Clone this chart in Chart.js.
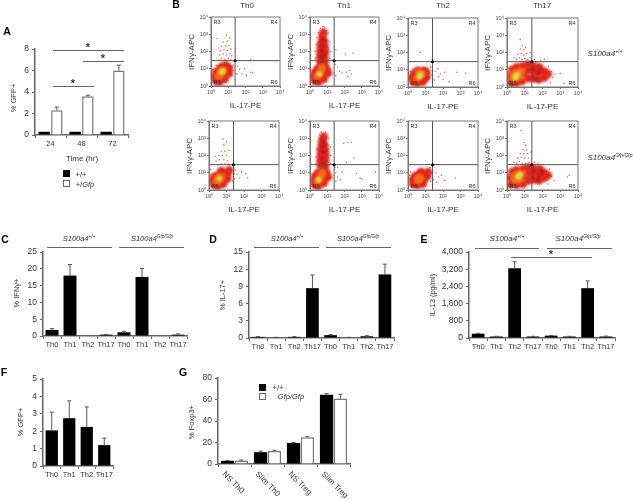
<!DOCTYPE html>
<html>
<head>
<meta charset="utf-8">
<title>Figure</title>
<script src="https://cdn.jsdelivr.net/npm/chart.js@4"></script>
<style>
  html, body { margin: 0; background: #fff; }
  #fig { position: relative; width: 633px; height: 499px; overflow: hidden; font-family: "Liberation Sans", Arial, sans-serif; color: #333; filter: blur(0.3px); }
  #fig canvas { position: absolute; }
  .t { position: absolute; white-space: nowrap; transform: translate(-50%, -50%); }
  .t sup { font-size: 62%; line-height: 0; vertical-align: 0.45em; }
  .line { position: absolute; height: 1px; background: #666; }
  .box { position: absolute; width: 7px; height: 7px; box-sizing: border-box; }
</style>
</head>
<body>
<div id="fig"></div>
<script>
/* panel A */
const hours = ['24', '48', '72'];
const aWild = [0.3, 0.3, 0.3];
const aGfp = [2.3, 3.6, 6.0];
const aGfpErr = [0.3, 0.1, 0.5];

/* panels C, D, E */
const thEight = ['Th0', 'Th1', 'Th2', 'Th17', 'Th0', 'Th1', 'Th2', 'Th17'];
const ifng = [1.8, 18, 0, 0.4, 1.1, 17.6, 0, 0.4];
const ifngErr = [0.4, 3.3, 0, 0.1, 0.3, 2.5, 0, 0.2];
const il17 = [0.2, 0.1, 0.2, 8.7, 0.5, 0.1, 0.3, 11.1];
const il17Err = [0.05, 0.03, 0.05, 2.3, 0.1, 0.03, 0.1, 1.8];
const il13 = [200, 70, 3250, 70, 110, 70, 2320, 70];
const il13Err = [20, 10, 300, 10, 10, 10, 340, 20];

/* panel F */
const thFour = ['Th0', 'Th1', 'Th2', 'Th17'];
const fGfp = [2.05, 2.75, 2.25, 1.2];
const fGfpErr = [1.05, 1.0, 1.15, 0.4];

/* panel G */
const foxpCats = ['NS Th0', 'Slim Th0', 'NS Treg', 'Slim Treg'];
const foxpWild = [3, 11, 19.5, 64.5];
const foxpWildErr = [0.2, 1, 0.5, 1];
const foxpGfp = [3.2, 12, 25, 61];
const foxpGfpErr = [0.5, 0.8, 0.4, 4];

/* panel B, read in decades of each axis: [IL-17-PE, IFNy-APC] */
const gateX = [1.4, 1.4];
const gateYSpan = [0, 4];
const gateY = [1.47, 1.47];
const gateXSpan = [0, 4];

const th0WtSparse = [[.45,1.5],[.6,1.6],[.8,1.55],[1,1.6],[1.15,1.5],[.5,1.8],[.7,1.85],[.9,1.8],[1.1,1.9],[.55,2.05],[.75,2.1],[.95,2.05],[1.15,2.15],[.6,2.3],[.85,2.3],[1.05,2.35],[.7,2.55],[.95,2.6],[.45,2.2],[.35,2.75],[1.1,2.8],[.9,2.95],[1.2,1.75],[1.55,1.15],[1.65,.95],[1.8,.7],[1.95,1.0],[2.05,.6],[2.3,.8],[2.4,.75],[2.3,1.55],[1.5,.7],[.05,.5],[.1,.95],[.3,1.2],[1.2,.6],[1.3,.9],[1.3,1.2]];
const th0WtRed = [[.28,.3],[.22,.55],[.3,.8],[.5,.25],[.55,.55],[.5,.95],[.6,1.1],[.8,.4],[.85,.7],[.85,1.0],[.85,1.2],[1.05,.75],[1.05,1.05]];
const th0WtOrange = [[.42,.55],[.58,.68],[.72,.88],[.55,.88]];
const th0WtCore = [[.62,.78],[.7,.9]];

const th1WtSparse = [[.3,1.6],[.3,2.0],[.35,2.4],[.4,2.8],[.5,3.1],[.6,3.35],[.85,3.4],[1.05,3.05],[1.15,2.55],[1.2,2.0],[1.15,1.6],[.95,3.2],[.75,3.45],[.45,1.8],[1.05,2.2],[.42,2.5],[1.6,1.1],[1.7,.85],[1.85,.75],[2.1,.8],[2.2,.55],[2.3,.9],[2.05,1.85],[2.5,1.9],[1.5,.6],[1.45,1.25],[2.4,.7],[1.5,2.1]];
const th1WtRed = [[.28,.3],[.22,.55],[.3,.8],[.5,.25],[.55,.55],[.45,1.0],[.8,.4],[.85,.7],[.95,1.0],[.8,1.15],[1.05,.75],[.6,1.4],[.85,1.4],[.58,1.7],[.85,1.7],[.6,2.0],[.88,2.0],[.62,2.3],[.85,2.3],[.68,2.6],[.82,2.6],[.72,2.9],[.78,3.1]];
const th1WtDark = [[.7,1.4],[.65,1.7],[.82,1.8],[.7,2.05],[.72,2.35],[.75,2.65],[.6,1.25]];
const th1WtOrange = [[.42,.55],[.55,.72],[.65,.92],[.7,1.1]];
const th1WtCore = [[.55,.7]];

const th2WtSparse = [[.7,2.0],[.35,1.0],[1.35,.7],[1.4,.95],[1.55,.9],[1.7,1.05],[1.75,.6],[1.85,.75],[2.0,.45],[2.1,.85],[2.8,.85],[3.3,.8],[2.35,.3],[1.5,.4],[1.3,1.15],[.15,.9],[.1,.6]];
const th2WtRed = [[.3,.3],[.25,.55],[.35,.78],[.55,.25],[.6,.55],[.55,.95],[.85,.3],[.95,.6],[.9,.95],[1.05,.85],[1.05,.55]];
const th2WtOrange = [[.5,.5],[.68,.65],[.82,.75],[.62,.85]];
const th2WtCore = [[.72,.72],[.65,.6]];

const th17WtSparse = [[.55,1.6],[.7,1.7],[.85,1.6],[1.0,1.65],[1.15,1.6],[.6,1.9],[.8,1.95],[.95,1.85],[1.1,1.95],[.75,2.2],[.95,2.15],[.85,2.4],[1.05,2.3],[.4,1.7],[1.3,1.7],[1.55,1.6],[1.9,1.55],[2.1,1.6],[2.5,.9],[2.55,.55],[2.7,.75],[2.45,.25],[3.0,.8],[3.2,.2],[.75,2.75],[1.3,2.0],[2.35,1.2]];
const th17WtRed = [[.25,.3],[.2,.65],[.3,1.0],[.55,.25],[.6,.7],[.55,1.15],[.85,.35],[.95,.75],[.9,1.2],[1.2,.5],[1.2,.95],[1.2,1.3],[1.5,.5],[1.5,.9],[1.5,1.2],[1.8,.45],[1.8,.85],[1.8,1.15],[2.1,.55],[2.1,.9],[2.3,.75]];
const th17WtDark = [[.15,.2],[.3,.12],[1.45,.6],[1.45,1.05],[1.75,.8],[1.9,1.05],[1.65,.45]];
const th17WtOrange = [[.35,.45],[.5,.6],[.75,.6],[.55,.85],[.8,.9],[.3,.75]];
const th17WtCore = [[.5,.62],[.58,.72],[.45,.55]];

const th0KoSparse = [[.5,1.45],[.7,1.5],[.9,1.5],[1.1,1.5],[.4,1.65],[.6,1.75],[.85,1.75],[1.05,1.7],[.55,2.0],[.75,2.0],[1.0,2.0],[.7,2.25],[.9,2.25],[1.15,2.3],[.85,2.6],[1.0,2.8],[.8,2.95],[.35,1.95],[1.5,1.15],[1.6,.9],[1.75,.7],[1.85,1.05],[2.1,.95],[2.2,.7],[1.45,.65],[.05,.9],[.1,1.2],[1.35,.55],[1.45,.95]];
const th0KoRed = [[.28,.3],[.22,.55],[.3,.75],[.5,.25],[.55,.5],[.5,.85],[.8,.35],[.85,.65],[.8,.95],[1.05,.65],[1.05,.95],[1.15,1.15],[.7,1.1]];
const th0KoOrange = [[.42,.5],[.58,.6],[.72,.75],[.5,.72]];
const th0KoCore = [[.6,.66]];

const th1KoSparse = [[.35,1.5],[.35,1.9],[.4,2.4],[.45,2.8],[.55,3.2],[.65,3.35],[.9,3.35],[1.1,3.0],[1.2,2.5],[1.2,2.0],[1.2,1.55],[1.95,2.7],[2.2,2.75],[2.4,2.75],[2.55,1.85],[1.6,1.3],[1.5,1.0],[1.6,.75],[1.75,.6],[1.85,1.05],[2.7,.95],[2.9,.7],[3.0,.65],[3.8,1.05],[1.5,.5],[1.45,1.3],[2.1,1.6]];
const th1KoRed = [[.28,.3],[.25,.55],[.3,.8],[.5,.25],[.55,.55],[.48,1.0],[.8,.4],[.85,.7],[.95,1.0],[.8,1.15],[1.05,.75],[.62,1.4],[.88,1.4],[.6,1.7],[.88,1.7],[.62,2.0],[.9,2.0],[.62,2.3],[.88,2.3],[.68,2.6],[.85,2.6],[.72,2.9],[.8,3.1]];
const th1KoDark = [[.75,1.5],[.72,1.85],[.78,2.2],[.75,2.5],[.78,2.8]];
const th1KoOrange = [[.42,.5],[.55,.65],[.65,.82],[.72,1.0]];
const th1KoCore = [[.5,.6]];

const th2KoSparse = [[1.35,.95],[1.45,.6],[1.6,1.0],[1.65,.45],[1.75,.75],[1.9,.85],[2.1,.55],[2.7,.7],[1.4,.3],[.1,.85],[.15,1.05],[1.25,1.3],[1.5,1.45],[1.7,1.48],[1.3,.5]];
const th2KoRed = [[.3,.35],[.28,.6],[.4,.8],[.55,.3],[.62,.55],[.62,.9],[.85,.35],[.9,.6],[.9,.9],[1.1,.8],[1.15,1.05],[.75,1.05]];
const th2KoOrange = [[.55,.55],[.7,.68],[.6,.7]];
const th2KoCore = [];

const th17KoSparse = [[.55,1.55],[.7,1.65],[.85,1.55],[1.05,1.55],[1.25,1.6],[.6,1.85],[.8,1.9],[1.0,1.85],[1.2,1.85],[.75,2.1],[.95,2.1],[1.15,2.1],[.9,2.35],[1.1,2.3],[1.05,2.6],[.8,3.45],[.4,1.6],[1.55,1.6],[1.35,2.2],[2.4,1.2],[2.5,.8],[2.65,.55],[2.3,.35],[3.5,.85],[3.4,.75],[1.75,1.55],[.95,2.75]];
const th17KoRed = [[.25,.35],[.2,.7],[.3,1.05],[.55,.3],[.6,.75],[.55,1.15],[.9,.35],[.95,.8],[.9,1.2],[1.2,.55],[1.2,.95],[1.2,1.3],[1.5,.6],[1.5,1.0],[1.5,1.25],[1.8,.55],[1.8,.95],[1.85,1.2],[2.1,.7],[2.1,1.0],[2.3,.85]];
const th17KoDark = [[.15,.25],[1.45,.75],[1.5,1.1],[1.8,.8],[1.95,1.05],[1.7,.6]];
const th17KoOrange = [[.45,.55],[.6,.7],[.75,.65],[.6,.95],[.85,.95],[.4,.8]];
const th17KoCore = [[.68,.82],[.75,.9],[.62,.75]];

const fig = document.getElementById('fig');
const TICK = '#333';
const AXIS = '#666';
const FONT = '"Liberation Sans", Arial, sans-serif';

function text(html, x, y, size = 8, extra = '') {
  const el = document.createElement('div');
  el.className = 't';
  el.innerHTML = html;
  el.style.cssText = `left:${x}px;top:${y}px;font-size:${size}px;${extra}`;
  fig.appendChild(el);
}
const vtext = (html, x, y, size = 8) => text(html, x, y, size, 'transform:translate(-50%,-50%) rotate(-90deg);');

function hline(x1, x2, y) {
  const el = document.createElement('div');
  el.className = 'line';
  el.style.cssText = `left:${x1}px;top:${y}px;width:${x2 - x1}px;`;
  fig.appendChild(el);
}

function box(x, y, fill) {
  const el = document.createElement('div');
  el.className = 'box';
  el.style.cssText = `left:${x}px;top:${y}px;background:${fill};border:1px solid ${fill === '#000' ? '#000' : '#666'};`;
  fig.appendChild(el);
}

function addCanvas(x, y, w, h) {
  const c = document.createElement('canvas');
  c.width = w;
  c.height = h;
  c.style.cssText = `left:${x}px;top:${y}px;width:${w}px;height:${h}px;`;
  fig.appendChild(c);
  return c;
}

/* error whiskers: only the upper half, like the figure */
const whiskers = {
  id: 'whiskers',
  afterDatasetsDraw(chart) {
    const { ctx, scales } = chart;
    chart.data.datasets.forEach((ds, d) => {
      if (!ds.errors) return;
      chart.getDatasetMeta(d).data.forEach((bar, i) => {
        if (!ds.errors[i]) return;
        const top = scales.y.getPixelForValue(ds.data[i] + ds.errors[i]);
        ctx.save();
        ctx.strokeStyle = '#555';
        ctx.lineWidth = 1;
        ctx.beginPath();
        ctx.moveTo(bar.x, bar.y);
        ctx.lineTo(bar.x, top);
        ctx.moveTo(bar.x - 2, top);
        ctx.lineTo(bar.x + 2, top);
        ctx.stroke();
        ctx.restore();
      });
    });
  },
};

/* x labels that run down to the right, which the scale itself cannot do */
const slantLabels = {
  id: 'slantLabels',
  afterDraw(chart, args, opts) {
    if (!opts.on) return;
    const { ctx, scales } = chart;
    chart.data.labels.forEach((label, i) => {
      ctx.save();
      ctx.translate(scales.x.getPixelForTick(i) - 11, scales.x.top + 9);
      ctx.rotate(Math.PI / 4);
      ctx.font = `8px ${FONT}`;
      ctx.fillStyle = TICK;
      ctx.textBaseline = 'middle';
      ctx.fillText(label, 0, 0);
      ctx.restore();
    });
  },
};

function barPanel({ left, right, top, zero, labels, datasets, max, step, format, catPct, barPct, slant }) {
  const M = { l: 30, r: 8, t: 7, b: slant ? 34 : 16 };
  const c = addCanvas(left - M.l, top - M.t, right - left + M.l + M.r, zero - top + M.t + M.b);
  return new Chart(c, {
    type: 'bar',
    data: {
      labels,
      datasets: datasets.map((d) => ({
        data: d.data,
        errors: d.errors,
        backgroundColor: d.white ? '#fff' : '#000',
        borderColor: d.white ? '#777' : '#000',
        borderWidth: d.white ? 1.5 : 0,
        categoryPercentage: catPct,
        barPercentage: barPct,
      })),
    },
    options: {
      responsive: false,
      animation: false,
      layout: { padding: { top: M.t, right: M.r } },
      plugins: { legend: { display: false }, tooltip: { enabled: false }, slantLabels: { on: !!slant } },
      scales: {
        x: {
          afterFit: (s) => { s.height = M.b; },
          border: { color: AXIS, width: 1.5 },
          grid: { offset: true, drawOnChartArea: false, tickLength: 3, color: AXIS },
          ticks: { display: !slant, color: TICK, autoSkip: false, maxRotation: 0, padding: 1, font: { family: FONT, size: 7.5 } },
        },
        y: {
          min: 0,
          max,
          afterFit: (s) => { s.width = M.l; },
          border: { color: AXIS, width: 1.5 },
          grid: { drawOnChartArea: false, tickLength: 3, color: AXIS },
          ticks: { stepSize: step, color: TICK, padding: 3, font: { family: FONT, size: 8.5 }, callback: format || ((v) => v) },
        },
      },
    },
    plugins: [whiskers, slantLabels],
  });
}

const SUPERS = ['\u2070', '\u00b9', '\u00b2', '\u00b3', '\u2074'];

/* soft edges for the dense parts of a dot plot */
const softClouds = {
  id: 'softClouds',
  beforeDatasetDraw(chart, args) {
    if (chart.data.datasets[args.index].soft) {
      chart.ctx.save();
      chart.ctx.filter = 'blur(1.3px)';
    }
  },
  afterDatasetDraw(chart, args) {
    if (chart.data.datasets[args.index].soft) chart.ctx.restore();
  },
};

function flowPlot(left, right, top, bottom, layers) {
  const M = { l: 18, r: 6, t: 5, b: 11 };
  const c = addCanvas(left - M.l, top - M.t, right - left + M.l + M.r, bottom - top + M.t + M.b);
  const tickScale = {
    min: 0,
    max: 4,
    border: { color: '#777', width: 1 },
    grid: { drawOnChartArea: false, tickLength: 2, color: '#777' },
    ticks: { stepSize: 1, padding: 1, color: '#444', maxRotation: 0, font: { family: FONT, size: 5.5 }, callback: (v) => '10' + SUPERS[v] },
  };
  const dots = (data, color, r, soft = true) => ({ data, backgroundColor: color, pointRadius: r, pointBorderWidth: 0, soft });
  const gate = (xs, ys) => ({
    data: xs.map((x, i) => ({ x, y: ys[i] })),
    showLine: true,
    borderColor: '#555',
    borderWidth: 1,
    pointRadius: 0,
  });
  const [sparse, red, dark, orange, core] = layers;
  new Chart(c, {
    type: 'scatter',
    data: {
      datasets: [
        dots([[gateX[0], gateY[0]]], '#000', 1.5, false),
        gate(gateX, gateYSpan),
        gate(gateXSpan, gateY),
        dots(core, 'rgba(222,222,60,0.9)', 2.8),
        dots(orange, 'rgba(244,112,28,0.8)', 4),
        dots(dark, 'rgba(176,16,24,0.75)', 2.2),
        dots(red, '#e2261c', 4.2),
        dots(sparse, '#ec6a62', 0.8, false),
      ],
    },
    options: {
      responsive: false,
      animation: false,
      layout: { padding: { top: M.t, right: M.r } },
      plugins: { legend: { display: false }, tooltip: { enabled: false } },
      scales: {
        x: { ...tickScale, type: 'linear', afterFit: (s) => { s.height = M.b; } },
        y: { ...tickScale, type: 'linear', afterFit: (s) => { s.width = M.l; } },
      },
    },
    plugins: [softClouds, {
      id: 'frame',
      afterDraw(chart) {
        const a = chart.chartArea;
        chart.ctx.strokeStyle = '#777';
        chart.ctx.strokeRect(a.left, a.top, a.width, a.height);
      },
    }],
  });
  const w = right - left;
  const h = bottom - top;
  text('R3', left + 6, top + 5, 5.5);
  text('R4', right - 6, top + 5, 5.5);
  text('R5', left + 6, bottom - 4, 5.5);
  text('R6', right - 6, bottom - 4, 5.5);
  text('IL-17-PE', left + w / 2, bottom + 19);
  vtext('IFN\u03b3-APC', left - 20, top + h / 2);
}

/* panel A */
barPanel({
  left: 35, right: 128, top: 48, zero: 135, labels: hours, max: 8, step: 2, catPct: 0.82, barPct: 0.9,
  datasets: [{ data: aWild }, { data: aGfp, errors: aGfpErr, white: true }],
});
vtext('% GFP+', 13, 98, 7.5);
text('Time (hr)', 82, 158);
hline(53, 124, 50); text('*', 88, 47, 11, 'font-weight:bold;');
hline(83, 124, 61); text('*', 103, 58, 11, 'font-weight:bold;');
hline(53, 94, 86); text('*', 73, 83, 11, 'font-weight:bold;');
box(63, 170, '#000'); text('+/+', 81, 174, 7.5);
box(63, 180, '#fff'); text('+/<i>Gfp</i>', 85, 184, 7.5);

/* panel B */
const flowCols = [[211, 280], [310, 379], [408, 478], [507, 578]];
flowPlot(...flowCols[0], 17, 86, [th0WtSparse, th0WtRed, [], th0WtOrange, th0WtCore]);
flowPlot(...flowCols[1], 17, 86, [th1WtSparse, th1WtRed, th1WtDark, th1WtOrange, th1WtCore]);
flowPlot(...flowCols[2], 18, 87, [th2WtSparse, th2WtRed, [], th2WtOrange, th2WtCore]);
flowPlot(...flowCols[3], 18, 87, [th17WtSparse, th17WtRed, th17WtDark, th17WtOrange, th17WtCore]);
flowPlot(209, 279, 121, 190, [th0KoSparse, th0KoRed, [], th0KoOrange, th0KoCore]);
flowPlot(...flowCols[1], 121, 190, [th1KoSparse, th1KoRed, th1KoDark, th1KoOrange, th1KoCore]);
flowPlot(...flowCols[2], 121, 190, [th2KoSparse, th2KoRed, [], th2KoOrange, th2KoCore]);
flowPlot(...flowCols[3], 121, 190, [th17KoSparse, th17KoRed, th17KoDark, th17KoOrange, th17KoCore]);
text('Th0', 247, 5);
text('Th1', 344, 5);
text('Th2', 443, 5);
text('Th17', 542, 5);
text('<i>S100a4<sup>+/+</sup></i>', 605, 53, 8);
text('<i>S100a4<sup>Gfp/Gfp</sup></i>', 610, 157, 8);

/* panel C */
barPanel({ left: 43, right: 187, top: 251, zero: 336, labels: thEight, max: 25, step: 5, catPct: 1, barPct: 0.72, datasets: [{ data: ifng, errors: ifngErr }] });
vtext('% IFN\u03b3+', 16, 293, 7.5);
hline(47, 112, 247); text('<i>S100a4<sup>+/+</sup></i>', 79, 238, 7.5);
hline(119, 184, 247); text('<i>S100a4<sup>Gfp/Gfp</sup></i>', 152, 238, 7.5);

/* panel D */
barPanel({ left: 249, right: 394, top: 251, zero: 338, labels: thEight, max: 15, step: 3, catPct: 1, barPct: 0.7, datasets: [{ data: il17, errors: il17Err }] });
vtext('% IL-17+', 222, 295, 7.5);
hline(254, 319, 247); text('<i>S100a4<sup>+/+</sup></i>', 287, 238, 7.5);
hline(326, 391, 247); text('<i>S100a4<sup>Gfp/Gfp</sup></i>', 358, 238, 7.5);

/* panel E */
barPanel({
  left: 469, right: 615, top: 251, zero: 338, labels: thEight, max: 4000, step: 800, catPct: 1, barPct: 0.7,
  format: (v) => v.toLocaleString('en-US'), datasets: [{ data: il13, errors: il13Err }],
});
vtext('IL-13 (pg/ml)', 432, 295, 7.5);
hline(475, 539, 248); text('<i>S100a4<sup>+/+</sup></i>', 507, 238, 8);
hline(547, 612, 248); text('<i>S100a4<sup>Gfp/Gfp</sup></i>', 578, 238, 8);
hline(511, 592, 257); text('*', 551, 254, 11, 'font-weight:bold;');

/* panel F */
barPanel({ left: 43, right: 113, top: 378, zero: 466, labels: thFour, max: 5, step: 1, catPct: 1, barPct: 0.7, datasets: [{ data: fGfp, errors: fGfpErr }] });
vtext('% GFP+', 20, 422, 7.5);

/* panel G */
barPanel({
  left: 218, right: 350, top: 377, zero: 464, labels: foxpCats, max: 80, step: 20, catPct: 0.84, barPct: 0.96, slant: true,
  datasets: [{ data: foxpWild, errors: foxpWildErr }, { data: foxpGfp, errors: foxpGfpErr, white: true }],
});
vtext('% Foxp3+', 191, 422, 7.5);
box(259, 384, '#000'); text('+/+', 278, 387, 7.5);
box(259, 393, '#fff'); text('<i>Gfp/Gfp</i>', 291, 396, 7.5);

/* panel letters */
[['A', 7, 31], ['B', 176, 4], ['C', 5, 239], ['D', 213, 239], ['E', 424, 239], ['F', 4, 372], ['G', 183, 372]]
  .forEach(([l, x, y]) => text(l, x, y, 10.5, 'font-weight:bold;color:#000;'));
</script>
</body>
</html>
